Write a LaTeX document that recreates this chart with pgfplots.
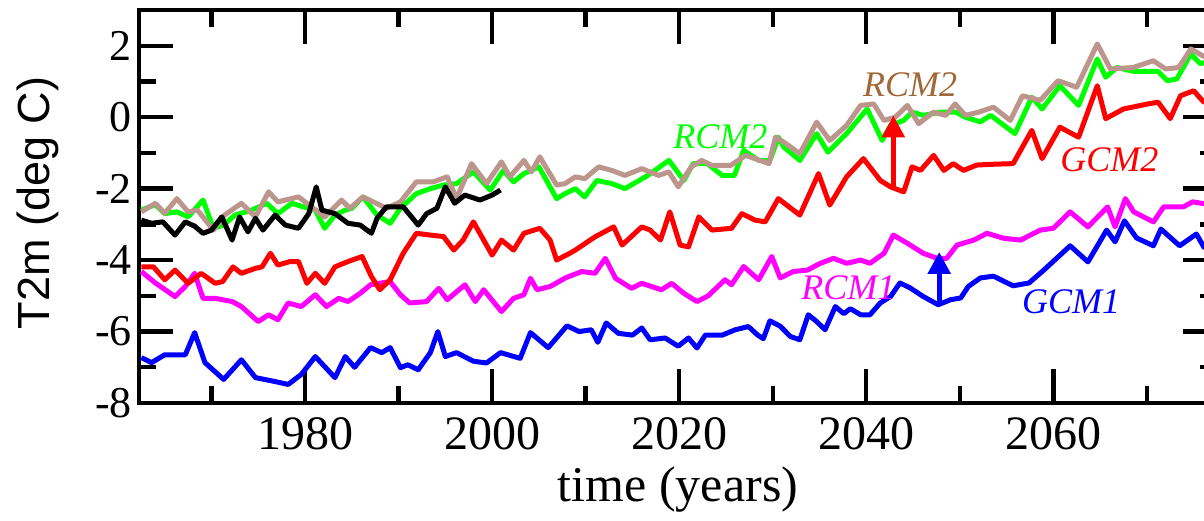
\documentclass[border=0pt]{standalone}
\usepackage{pgfplots}
\pgfplotsset{compat=1.18}
\usetikzlibrary{arrows.meta}
\usepackage{fontspec}
\setmainfont{Liberation Serif}
\setsansfont{Liberation Sans}
\definecolor{brownline}{RGB}{188,150,140}
\definecolor{brownlabel}{RGB}{160,104,56}
\definecolor{cmag}{RGB}{255,0,255}
\definecolor{cblue}{RGB}{0,0,255}
\definecolor{cred}{RGB}{255,0,0}
\definecolor{cgreen}{RGB}{0,255,0}
\begin{document}
\begin{tikzpicture}
\begin{axis}[
  at={(0,0)}, anchor=south west,
  scale only axis, width=539pt, height=196.5pt,
  xmin=1962.25, xmax=2077.5, ymin=-8, ymax=3,
  xtick={1980,2000,2020,2040,2060},
  minor xtick={1970,1990,2010,2030,2050,2070},
  ytick={-8,-6,-4,-2,0,2},
  minor ytick={-7,-5,-3,-1,1},
  tick align=inside,
  major tick length=17pt, minor tick length=8.5pt,
  every tick/.style={line width=2.2pt, black},
  axis line style={line width=2pt},
  /pgf/number format/assume math mode=true,
  /pgf/number format/1000 sep={},
  xticklabel style={font=\fontsize{24}{24}\selectfont, yshift=-4pt},
  yticklabel style={font=\fontsize{22}{22}\selectfont},
  xlabel={time (years)},
  xlabel style={font=\fontsize{25}{25}\selectfont, at={([yshift=-43.5pt]axis description cs:0.5,0)}, anchor=center},
  ylabel={T2m (deg C)},
  ylabel style={font=\sffamily\fontsize{22.5}{22.5}\selectfont, at={([xshift=-50.5pt]axis description cs:0,0.509)}, anchor=center},
  every axis plot/.append style={line width=2.5pt, line join=round},
]
% RCM1 (magenta)
\addplot[color=cmag] coordinates {
(1962.5,-4.32)(1964.0,-4.64)(1966.1,-5.02)(1967.2,-4.74)(1968.2,-4.37)(1969.1,-5.07)(1970.4,-5.07)(1972.2,-5.16)(1973.2,-5.30)(1975.0,-5.72)(1976.1,-5.53)(1977.1,-5.67)(1978.2,-5.20)(1979.6,-5.30)(1981.1,-4.97)(1982.3,-5.30)(1983.6,-5.07)(1984.6,-5.16)(1985.9,-4.93)(1987.0,-4.69)(1989.1,-4.60)(1990.2,-4.97)(1991.2,-5.20)(1993.0,-5.16)(1994.3,-4.79)(1995.2,-5.11)(1997.1,-4.69)(1998.2,-5.16)(1999.1,-4.83)(2001.0,-5.44)(2002.3,-5.07)(2003.4,-4.97)(2004.1,-4.51)(2004.8,-4.83)(2006.2,-4.74)(2007.9,-4.49)(2009.6,-4.32)(2011.0,-4.37)(2012.1,-3.95)(2013.2,-4.51)(2014.9,-4.79)(2016.0,-4.65)(2018.1,-4.83)(2019.2,-4.65)(2020.5,-4.93)(2021.9,-5.16)(2023.1,-5.00)(2024.9,-4.55)(2025.6,-4.69)(2026.9,-4.18)(2028.5,-4.55)(2029.9,-3.90)(2030.8,-4.50)(2032.2,-4.32)(2033.7,-4.28)(2035.1,-4.09)(2036.5,-3.95)(2037.9,-4.09)(2039.4,-4.00)(2040.4,-4.09)(2041.9,-3.81)(2042.9,-3.30)(2044.4,-3.53)(2046.1,-3.81)(2047.6,-3.95)(2048.6,-3.95)(2049.7,-3.58)(2051.5,-3.44)(2052.9,-3.25)(2054.7,-3.39)(2056.5,-3.44)(2058.6,-3.16)(2060.0,-3.11)(2061.8,-2.65)(2063.7,-3.07)(2065.8,-2.51)(2066.6,-3.07)(2067.7,-2.28)(2068.6,-2.65)(2070.7,-2.93)(2071.8,-2.51)(2073.9,-2.51)(2074.9,-2.37)(2076.1,-2.42)(2077.5,-2.40)
};
% GCM1 (blue)
\addplot[color=cblue] coordinates {
(1962.5,-6.73)(1963.6,-6.87)(1965.0,-6.65)(1967.2,-6.65)(1968.2,-6.03)(1969.3,-6.87)(1971.3,-7.34)(1973.2,-6.79)(1974.7,-7.29)(1976.8,-7.40)(1978.2,-7.48)(1979.6,-7.20)(1981.1,-6.70)(1983.2,-7.29)(1984.3,-6.70)(1985.3,-7.00)(1987.0,-6.45)(1988.2,-6.59)(1989.1,-6.45)(1990.2,-7.01)(1991.0,-6.93)(1992.1,-7.07)(1993.4,-6.59)(1994.2,-6.00)(1995.0,-6.70)(1996.2,-6.59)(1998.0,-6.83)(1999.4,-6.88)(2000.9,-6.59)(2003.0,-6.75)(2004.1,-6.03)(2006.0,-6.45)(2008.0,-5.84)(2009.3,-6.00)(2010.6,-5.95)(2011.3,-6.30)(2012.2,-5.76)(2013.5,-6.05)(2015.0,-6.10)(2016.0,-5.90)(2016.9,-6.23)(2018.5,-6.18)(2019.9,-6.41)(2021.0,-6.18)(2021.9,-6.46)(2022.8,-6.10)(2024.6,-6.10)(2026.0,-5.95)(2027.4,-5.86)(2028.4,-6.10)(2029.0,-6.20)(2029.7,-5.70)(2030.8,-5.85)(2031.9,-6.14)(2032.9,-6.23)(2033.8,-5.53)(2034.7,-5.72)(2035.6,-5.95)(2036.7,-5.30)(2037.6,-5.50)(2038.3,-5.36)(2039.4,-5.53)(2040.4,-5.53)(2041.5,-5.20)(2042.6,-5.02)(2043.6,-4.64)(2044.7,-4.78)(2046.1,-5.02)(2047.7,-5.25)(2049.0,-5.11)(2050.1,-5.06)(2050.9,-4.74)(2052.2,-4.50)(2053.6,-4.45)(2055.7,-4.72)(2057.4,-4.64)(2058.9,-4.30)(2061.8,-3.60)(2063.7,-4.05)(2065.7,-3.16)(2066.6,-3.49)(2067.6,-2.90)(2068.9,-3.38)(2070.7,-3.60)(2071.5,-3.13)(2073.5,-3.60)(2075.3,-3.27)(2076.1,-3.64)(2077.5,-3.50)
};
% GCM2 (red)
\addplot[color=cred] coordinates {
(1962.5,-4.19)(1963.8,-4.19)(1965.0,-4.55)(1966.1,-4.28)(1967.5,-4.65)(1968.9,-4.37)(1970.4,-4.65)(1971.2,-4.60)(1972.3,-4.19)(1973.2,-4.37)(1974.7,-4.23)(1975.4,-4.19)(1976.3,-3.81)(1977.1,-4.14)(1978.4,-4.04)(1979.3,-4.04)(1980.2,-4.65)(1981.1,-4.37)(1982.1,-4.65)(1983.2,-4.19)(1984.6,-4.04)(1986.1,-3.90)(1987.1,-4.46)(1988.0,-4.83)(1989.1,-4.55)(1990.5,-3.81)(1991.9,-3.25)(1993.4,-3.30)(1994.8,-3.34)(1995.9,-3.72)(1996.9,-3.44)(1998.0,-2.93)(1999.1,-3.44)(2000.0,-3.86)(2001.0,-3.44)(2002.3,-3.72)(2003.4,-3.25)(2005.1,-3.11)(2006.2,-3.44)(2006.9,-4.00)(2008.3,-3.81)(2008.9,-3.72)(2011.0,-3.35)(2013.0,-3.07)(2013.9,-3.58)(2016.0,-3.07)(2016.9,-3.16)(2018.0,-3.44)(2019.0,-2.65)(2020.1,-3.58)(2021.0,-3.63)(2022.1,-2.79)(2023.5,-3.16)(2025.6,-3.11)(2026.7,-2.70)(2028.1,-2.88)(2029.2,-2.93)(2030.6,-2.28)(2032.9,-2.74)(2034.9,-1.58)(2036.1,-2.46)(2037.9,-1.67)(2039.7,-1.16)(2041.5,-1.77)(2042.6,-1.95)(2044.0,-2.09)(2044.9,-1.39)(2045.8,-1.49)(2047.2,-1.07)(2048.3,-1.49)(2049.3,-1.30)(2050.4,-1.49)(2051.8,-1.34)(2053.3,-1.32)(2055.7,-1.30)(2057.7,-0.37)(2058.8,-1.16)(2060.7,-0.28)(2062.7,-0.56)(2064.7,0.88)(2065.6,-0.04)(2067.5,0.23)(2070.1,0.37)(2071.2,0.42)(2072.5,-0.04)(2073.6,0.60)(2075.0,0.74)(2076.1,0.42)(2077.5,0.50)
};
% RCM2 (green)
\addplot[color=cgreen] coordinates {
(1962.5,-2.60)(1964.0,-2.45)(1965.0,-2.70)(1966.3,-2.65)(1967.5,-2.79)(1969.1,-2.32)(1970.2,-3.11)(1971.3,-3.02)(1972.5,-2.74)(1974.3,-2.60)(1975.9,-2.41)(1977.1,-2.70)(1978.6,-2.41)(1979.8,-2.51)(1981.1,-2.60)(1982.1,-3.11)(1983.2,-2.74)(1984.3,-2.60)(1985.0,-2.55)(1986.2,-2.23)(1987.7,-2.74)(1989.1,-2.97)(1990.2,-2.55)(1991.9,-2.14)(1993.4,-2.00)(1994.8,-1.90)(1996.2,-1.86)(1998.0,-1.53)(1999.8,-2.04)(2001.2,-1.49)(2002.3,-1.81)(2003.4,-1.58)(2005.0,-1.39)(2006.9,-2.28)(2007.8,-2.14)(2008.9,-2.00)(2009.9,-2.23)(2011.2,-1.77)(2012.8,-1.86)(2014.2,-2.00)(2016.4,-1.67)(2017.4,-1.49)(2018.9,-1.21)(2020.5,-1.77)(2021.5,-1.30)(2023.0,-1.30)(2024.6,-1.63)(2025.9,-1.63)(2026.9,-0.93)(2028.5,-1.21)(2029.7,-1.21)(2030.6,-0.56)(2031.2,-0.84)(2032.9,-1.21)(2034.7,-0.46)(2035.9,-0.98)(2037.9,-0.46)(2040.1,0.23)(2041.7,-0.65)(2042.6,-0.23)(2044.0,-0.09)(2044.9,0.14)(2046.1,0.05)(2047.9,0.14)(2049.6,0.14)(2050.6,0.00)(2052.2,-0.13)(2053.3,0.05)(2055.9,-0.46)(2057.7,0.56)(2058.8,0.23)(2060.7,0.88)(2062.7,0.33)(2064.7,1.63)(2065.6,1.12)(2066.8,1.39)(2068.6,1.28)(2071.2,1.28)(2072.2,1.02)(2073.2,1.07)(2074.7,1.77)(2075.7,1.50)(2077.5,1.60)
};
% RCM2 (brown)
\addplot[color=brownline] coordinates {
(1962.5,-2.65)(1964.0,-2.41)(1965.0,-2.69)(1966.3,-2.28)(1967.5,-2.65)(1968.5,-2.60)(1970.2,-3.16)(1971.4,-2.74)(1973.2,-2.41)(1974.7,-2.79)(1976.1,-2.09)(1977.1,-2.37)(1979.3,-2.23)(1980.7,-2.51)(1982.1,-2.79)(1983.9,-2.32)(1984.8,-2.55)(1986.2,-2.23)(1987.3,-2.37)(1988.7,-2.55)(1990.2,-2.37)(1991.9,-1.81)(1993.7,-1.81)(1995.2,-1.67)(1996.2,-2.28)(1997.8,-1.30)(1999.4,-1.86)(2001.0,-1.25)(2001.9,-1.67)(2003.4,-1.21)(2004.2,-1.53)(2005.1,-1.11)(2006.9,-1.90)(2007.8,-1.86)(2008.9,-1.67)(2009.9,-1.72)(2011.4,-1.39)(2012.8,-1.49)(2014.2,-1.63)(2016.0,-1.44)(2017.8,-1.63)(2018.9,-1.53)(2019.9,-1.95)(2021.3,-1.39)(2022.4,-1.21)(2023.5,-1.35)(2025.5,-1.35)(2027.1,-1.07)(2028.1,-1.16)(2029.6,-1.30)(2030.3,-0.56)(2031.2,-0.70)(2032.9,-1.02)(2034.7,-0.14)(2036.1,-0.65)(2037.9,-0.23)(2039.4,0.33)(2040.8,0.37)(2041.9,-0.09)(2043.1,0.00)(2044.4,0.33)(2045.6,-0.18)(2047.2,0.14)(2048.5,0.05)(2049.5,0.37)(2050.6,0.05)(2052.0,0.14)(2053.6,0.28)(2055.4,-0.09)(2056.7,0.60)(2058.6,0.47)(2060.5,1.02)(2062.5,0.84)(2064.7,2.05)(2066.1,1.35)(2068.5,1.39)(2070.7,1.58)(2072.0,1.35)(2073.4,1.39)(2074.7,1.91)(2076.1,1.70)(2077.5,1.80)
};
% observations (black)
\addplot[color=black] coordinates {
(1962.5,-2.88)(1963.6,-2.97)(1964.8,-2.93)(1966.1,-3.30)(1967.2,-2.93)(1968.2,-3.05)(1969.1,-3.25)(1970.0,-3.16)(1971.1,-2.79)(1972.2,-3.44)(1973.0,-2.79)(1973.9,-3.21)(1974.7,-2.83)(1975.5,-3.16)(1976.8,-2.74)(1977.9,-3.02)(1979.3,-3.11)(1980.4,-2.70)(1981.2,-1.95)(1981.8,-2.60)(1983.2,-2.70)(1984.6,-2.97)(1985.9,-3.02)(1987.1,-3.25)(1987.7,-2.83)(1988.7,-2.51)(1990.5,-2.51)(1992.1,-3.02)(1993.0,-2.70)(1994.1,-2.55)(1995.0,-1.95)(1996.0,-2.41)(1997.1,-2.18)(1998.7,-2.32)(2000.0,-2.18)(2000.9,-2.04)
};
% arrows
\addplot[color=cred, line width=2.6pt, -{Triangle[width=11pt,length=11pt]}] coordinates {(2042.9,-1.95)(2042.9,0.05)};
\addplot[color=cblue, line width=2.6pt, -{Triangle[width=11pt,length=11pt]}] coordinates {(2047.8,-5.25)(2047.8,-3.77)};
% labels
\node[font=\itshape\fontsize{18}{18}\selectfont, text=cgreen] at (axis cs:2024.4,-0.54) {RCM2};
\node[font=\itshape\fontsize{18}{18}\selectfont, text=brownlabel] at (axis cs:2044.7,0.91) {RCM2};
\node[font=\itshape\fontsize{18}{18}\selectfont, text=cred] at (axis cs:2066.0,-1.18) {GCM2};
\node[font=\itshape\fontsize{18}{18}\selectfont, text=cmag] at (axis cs:2038.1,-4.78) {RCM1};
\node[font=\itshape\fontsize{18}{18}\selectfont, text=cblue] at (axis cs:2061.9,-5.17) {GCM1};
\end{axis}
\pgfresetboundingbox
\useasboundingbox (-69.5pt,-58.5pt) rectangle (532.5pt,201.5pt);
\end{tikzpicture}
\end{document}
